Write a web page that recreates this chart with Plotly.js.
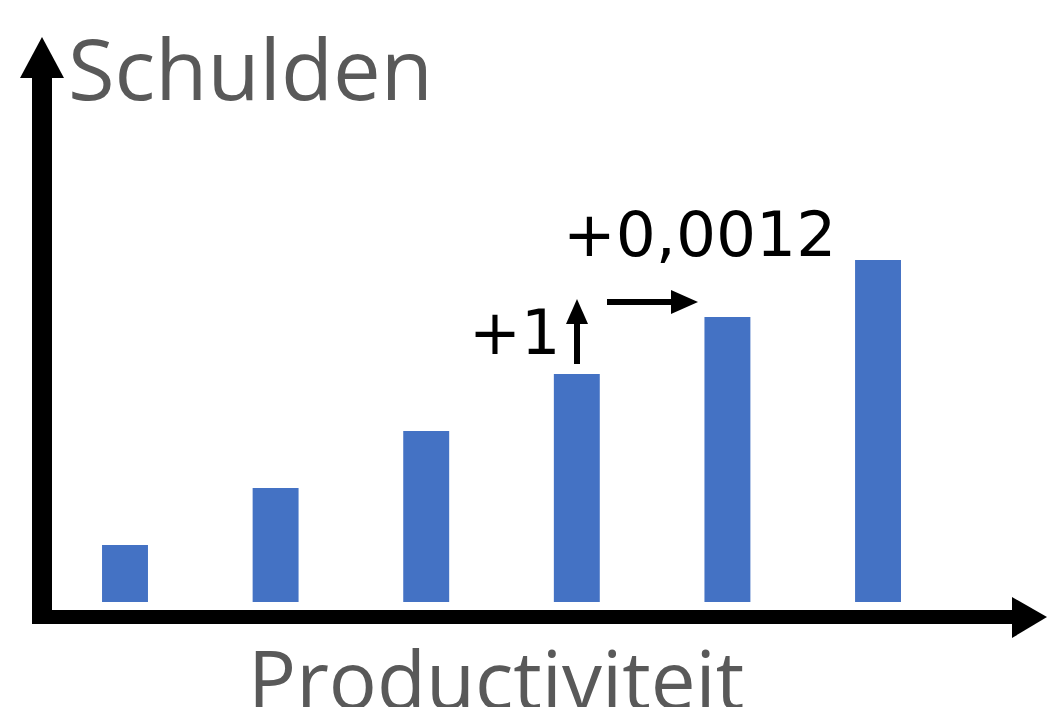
<!DOCTYPE html>
<html><head><meta charset="utf-8">
<script src="https://cdn.plot.ly/plotly-3.0.1.min.js"></script>
<style>html,body{margin:0;padding:0;background:#fff;}#chart{width:1047px;height:707px;}</style>
</head><body><div id="chart"></div>
<script>
// Data
const categories = [0, 1, 2, 3, 4, 5];
const debtValues = [1, 2, 3, 4, 5, 6];
const xTitle = "Productiviteit";
const yTitle = "Schulden";
const stepLabel = "+1";
const shiftLabel = "+0,0012";

const W = 1047, H = 707;
const px = v => v / W;
const py = v => 1 - v / H;

const trace = {
  type: 'bar', x: categories, y: debtValues,
  width: 0.305, marker: {color: '#4472C4', line: {width: 0}},
  hoverinfo: 'skip'
};

function tri(pts) {
  return 'M' + pts.map(p => px(p[0]) + ',' + py(p[1])).join(' L') + ' Z';
}

const shapes = [
  {type:'rect', xref:'paper', yref:'paper', x0:px(32), x1:px(52), y0:py(624), y1:py(76), fillcolor:'#000', line:{width:0}},
  {type:'path', xref:'paper', yref:'paper', path: tri([[20,78],[64,78],[42,37]]), fillcolor:'#000', line:{width:0}},
  {type:'rect', xref:'paper', yref:'paper', x0:px(32), x1:px(1014), y0:py(624), y1:py(610), fillcolor:'#000', line:{width:0}},
  {type:'path', xref:'paper', yref:'paper', path: tri([[1012,597],[1012,638],[1047,617]]), fillcolor:'#000', line:{width:0}},
  {type:'rect', xref:'paper', yref:'paper', x0:px(574), x1:px(580), y0:py(364), y1:py(320), fillcolor:'#000', line:{width:0}},
  {type:'path', xref:'paper', yref:'paper', path: tri([[566,324],[588,324],[577,299]]), fillcolor:'#000', line:{width:0}},
  {type:'rect', xref:'paper', yref:'paper', x0:px(607), x1:px(675), y0:py(305), y1:py(299), fillcolor:'#000', line:{width:0}},
  {type:'path', xref:'paper', yref:'paper', path: tri([[671,290],[671,314],[698,302]]), fillcolor:'#000', line:{width:0}}
];

const annotations = [
  {xref:'paper', yref:'paper', x:px(66), y:py(67), xanchor:'left', yanchor:'middle', showarrow:false,
   text: yTitle, font:{family:'Open Sans', size:85, color:'#595959'}},
  {xref:'paper', yref:'paper', x:px(496), y:py(677), xanchor:'center', yanchor:'middle', showarrow:false,
   text: xTitle, font:{family:'Open Sans', size:80, color:'#595959'}},
  {xref:'paper', yref:'paper', x:px(699), y:py(234), xanchor:'center', yanchor:'middle', showarrow:false,
   text: shiftLabel, font:{family:'DejaVu Sans', size:63, color:'#000'}},
  {xref:'paper', yref:'paper', x:px(514), y:py(332), xanchor:'center', yanchor:'middle', showarrow:false,
   text: stepLabel, font:{family:'DejaVu Sans', size:62, color:'#000'}}
];

const layout = {
  width: W, height: H,
  margin: {l:0, r:0, t:0, b:0},
  paper_bgcolor:'#fff', plot_bgcolor:'#fff',
  showlegend:false,
  xaxis: {range:[-0.830, 6.122], showgrid:false, zeroline:false, showticklabels:false, ticks:'', showline:false, fixedrange:true},
  yaxis: {range:[-1.842, 10.561], showgrid:false, zeroline:false, showticklabels:false, ticks:'', showline:false, fixedrange:true},
  shapes: shapes,
  annotations: annotations
};

Plotly.newPlot('chart', [trace], layout, {displayModeBar:false, staticPlot:true});
</script></body></html>
